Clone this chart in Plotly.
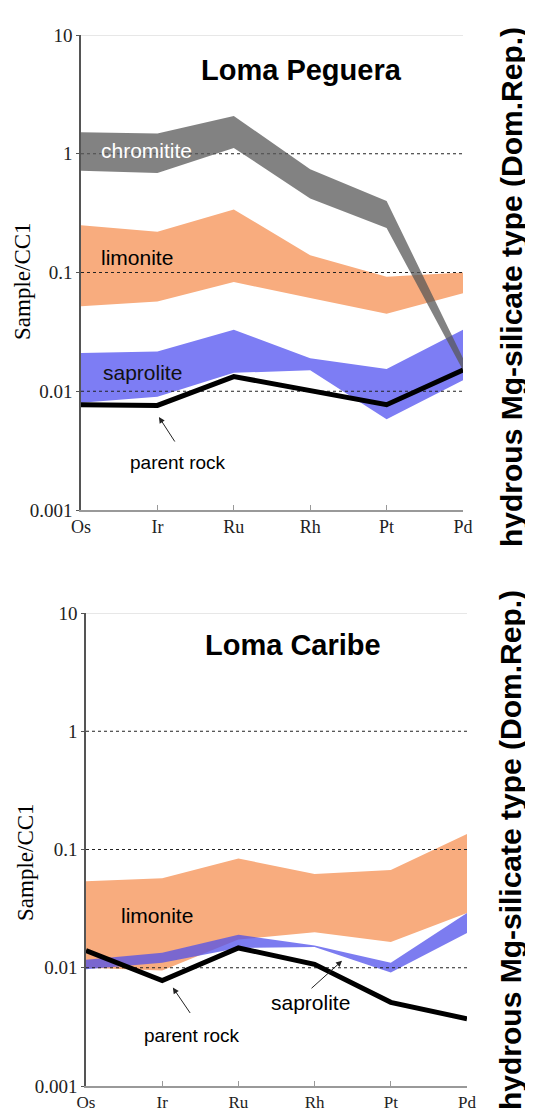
import plotly.graph_objects as go

# ---------------- data ----------------
elements = ["Os", "Ir", "Ru", "Rh", "Pt", "Pd"]
ytick_vals = [0.001, 0.01, 0.1, 1, 10]
ytick_text = ["0.001", "0.01", "0.1", "1", "10"]
ref_dotted = [1, 0.1, 0.01]
ref_top = 10

# Loma Peguera (top panel)
lp_chrom_hi = [1.52, 1.48, 2.08, 0.74, 0.40, 0.019]
lp_chrom_lo = [0.72, 0.69, 1.12, 0.42, 0.237, 0.015]
lp_lim_hi = [0.25, 0.22, 0.34, 0.14, 0.092, 0.10]
lp_lim_lo = [0.052, 0.057, 0.083, 0.061, 0.045, 0.067]
lp_sap_hi = [0.021, 0.0216, 0.033, 0.019, 0.0154, 0.033]
lp_sap_lo = [0.008, 0.009, 0.0143, 0.015, 0.0058, 0.0124]
lp_parent = [0.0077, 0.0076, 0.0133, 0.0102, 0.0077, 0.0151]

# Loma Caribe (bottom panel)
lc_lim_hi = [0.054, 0.057, 0.084, 0.062, 0.067, 0.135]
lc_lim_lo = [0.0100, 0.0095, 0.0173, 0.020, 0.0165, 0.029]
lc_sap_hi = [0.0117, 0.0134, 0.019, 0.0154, 0.011, 0.029]
lc_sap_lo = [0.0097, 0.011, 0.0147, 0.0150, 0.0091, 0.0197]
lc_parent = [0.014, 0.0078, 0.0147, 0.0107, 0.0051, 0.0037]

# ---------------- styles ----------------
C_CHROM = "rgba(88,88,88,0.75)"
C_LIM = "#F8AC7E"
C_SAP_TOP = "#7D7DF4"
C_SAP_BOT = "rgba(80,80,235,0.75)"
SERIF = "Times New Roman, Liberation Serif, serif"
SANS = "Arial, Liberation Sans, sans-serif"

# the page body has an 8px default margin, so the figure is shrunk to fit the window
OFF = 8
W, H = 533 - OFF, 1112 - OFF
xi = list(range(len(elements)))

fig = go.Figure()


def band(hi, lo, color, xa, ya):
    fig.add_trace(go.Scatter(
        x=xi + xi[::-1], y=hi + lo[::-1], fill="toself", fillcolor=color,
        mode="lines", line=dict(width=0), hoverinfo="skip", showlegend=False,
        xaxis=xa, yaxis=ya))


def reflines(xa, ya):
    for v in ref_dotted:
        fig.add_trace(go.Scatter(x=[xi[0], xi[-1]], y=[v, v], mode="lines",
                                 line=dict(color="#222", width=1, dash="dot"),
                                 hoverinfo="skip", showlegend=False, xaxis=xa, yaxis=ya))
    fig.add_trace(go.Scatter(x=[xi[0], xi[-1]], y=[ref_top, ref_top], mode="lines",
                             line=dict(color="#d0d0d0", width=1.2),
                             hoverinfo="skip", showlegend=False, xaxis=xa, yaxis=ya))


def parent(vals, xa, ya):
    fig.add_trace(go.Scatter(x=xi, y=vals, mode="lines",
                             line=dict(color="black", width=5),
                             hoverinfo="skip", showlegend=False, xaxis=xa, yaxis=ya))


# top panel
band(lp_lim_hi, lp_lim_lo, C_LIM, "x", "y")
band(lp_sap_hi, lp_sap_lo, C_SAP_TOP, "x", "y")
reflines("x", "y")
band(lp_chrom_hi, lp_chrom_lo, C_CHROM, "x", "y")
parent(lp_parent, "x", "y")

# bottom panel
band(lc_lim_hi, lc_lim_lo, C_LIM, "x2", "y2")
band(lc_sap_hi, lc_sap_lo, C_SAP_BOT, "x2", "y2")
reflines("x2", "y2")
parent(lc_parent, "x2", "y2")


def px_x(p):
    return (p - OFF) / W


def px_y(p):
    return 1 - (p - OFF) / H


xcommon = dict(range=[0, 5], tickvals=xi, ticktext=elements, showgrid=False, zeroline=False,
               showline=True, linecolor="#999", linewidth=1.5, ticks="inside", ticklen=5,
               tickcolor="#999", ticklabelstandoff=0, automargin=False)
ycommon = dict(type="log", range=[-3, 1], tickvals=ytick_vals, ticktext=ytick_text,
               showgrid=False, zeroline=False, showline=True, linecolor="#555", linewidth=1.5,
               ticks="outside", ticklen=3, tickcolor="#555",
               tickfont=dict(family=SERIF, size=19, color="#222"), automargin=False)

fig.update_layout(
    width=W, height=H, margin=dict(l=0, r=0, t=0, b=0, autoexpand=False),
    paper_bgcolor="white", plot_bgcolor="white", showlegend=False,
    xaxis=dict(domain=[px_x(81), px_x(463)], anchor="y",
               tickfont=dict(family=SERIF, size=18, color="#222"), **xcommon),
    yaxis=dict(domain=[px_y(510), px_y(35)], anchor="x", **ycommon),
    xaxis2=dict(domain=[px_x(86), px_x(467)], anchor="y2",
                tickfont=dict(family=SERIF, size=17, color="#222"), **xcommon),
    yaxis2=dict(domain=[px_y(1086), px_y(613)], anchor="x2", **ycommon),
)

ann = []


def txt(text, x, y, xr, yr, size, color="black", bold=False, family=SANS, angle=0):
    ann.append(dict(text=("<b>%s</b>" % text) if bold else text, x=x, y=y, xref=xr, yref=yr,
                    showarrow=False, textangle=angle,
                    font=dict(family=family, size=size, color=color),
                    xanchor="center", yanchor="middle"))


def arrow(x_tail, y_tail, x_head, y_head, xr, yr):
    ann.append(dict(text="", x=x_head, y=y_head, ax=x_tail, ay=y_tail, xref=xr, yref=yr,
                    axref=xr, ayref=yr, showarrow=True, arrowhead=2, arrowsize=1.2,
                    arrowwidth=1, arrowcolor="#222"))


# top panel labels (annotation y on log axis is log10 value)
txt("Loma Peguera", 2.88, 0.705, "x", "y", 29, bold=True)
txt("chromitite", 0.86, 0.03, "x", "y", 21, color="white")
txt("limonite", 0.73, -0.87, "x", "y", 21)
txt("saprolite", 0.80, -1.84, "x", "y", 21, color="#111")
txt("parent rock", 1.27, -2.60, "x", "y", 19)
arrow(1.24, -2.436, 1.02, -2.217, "x", "y")

# bottom panel labels
txt("Loma Caribe", 2.72, 0.731, "x2", "y2", 29, bold=True)
txt("limonite", 0.93, -1.555, "x2", "y2", 21)
txt("saprolite", 2.94, -2.294, "x2", "y2", 21)
arrow(2.94, -2.185, 3.36, -1.941, "x2", "y2")
txt("parent rock", 1.39, -2.571, "x2", "y2", 19)
arrow(1.38, -2.395, 1.14, -2.168, "x2", "y2")

# axis titles
txt("Sample/CC1", px_x(23), px_y(281), "paper", "paper", 23, family=SERIF, angle=-90)
txt("Sample/CC1", px_x(25), px_y(862), "paper", "paper", 23, family=SERIF, angle=-90)
side = "hydrous Mg-silicate type (Dom.Rep.)"
txt(side, px_x(511), px_y(287), "paper", "paper", 30, bold=True, angle=-90)
txt(side, px_x(511), px_y(850), "paper", "paper", 30, bold=True, angle=-90)

fig.update_layout(annotations=ann)
fig.write_html("out.html")
